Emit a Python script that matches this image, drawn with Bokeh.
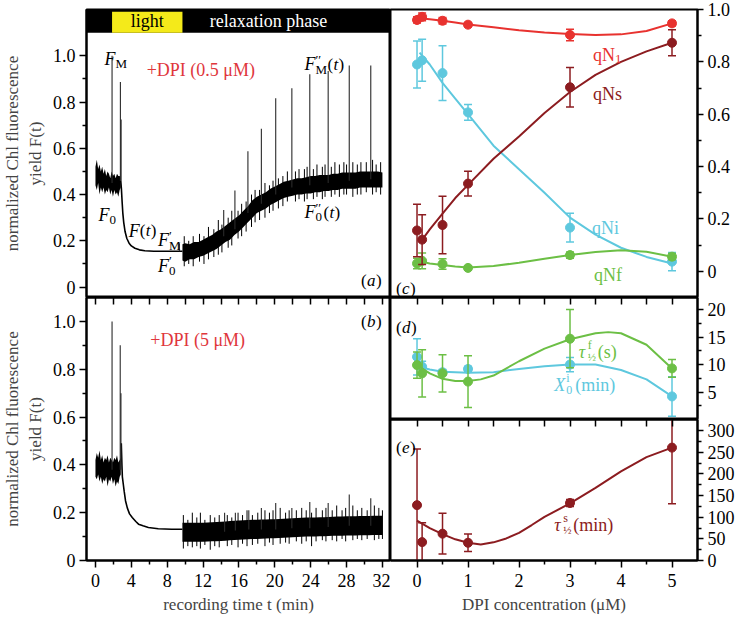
from bokeh.plotting import figure
from bokeh.models import Range1d, FixedTicker, LinearAxis, Label
from bokeh.layouts import row, column
from bokeh.embed import file_html
from bokeh.resources import INLINE

SERIF = "Liberation Serif"
RED = "#e8322f"
DRED = "#8c1c20"
CYAN = "#5ec8de"
GREEN = "#6cbf45"
LABRED = "#e0363c"

# ---------------- panel (a) trace: +DPI 0.5 uM ----------------
a_pre_t = [0.0, 0.15, 0.3, 0.45, 0.6, 0.75, 0.9, 1.05, 1.2, 1.35, 1.5, 1.65, 1.8, 1.95, 2.1, 2.25, 2.4, 2.55, 2.7, 2.82]
a_pre_hi = [0.52, 0.55, 0.51, 0.53, 0.50, 0.52, 0.49, 0.51, 0.48, 0.50, 0.49, 0.47, 0.50, 0.48, 0.49, 0.47, 0.49, 0.48, 0.48, 0.47]
a_pre_lo = [0.44, 0.42, 0.45, 0.40, 0.43, 0.41, 0.43, 0.40, 0.42, 0.41, 0.43, 0.40, 0.42, 0.39, 0.42, 0.40, 0.41, 0.39, 0.42, 0.43]
a_dec_t = [2.82, 2.9, 2.97, 3.05, 3.15, 3.3, 3.5, 3.75, 4.0, 4.4, 4.9, 5.5, 6.5, 8.0, 9.7]
a_dec_v = [0.46, 0.42, 0.37, 0.32, 0.28, 0.24, 0.21, 0.19, 0.178, 0.168, 0.161, 0.157, 0.155, 0.155, 0.155]
a_rec_t = [9.7, 10.0, 10.5, 11.0, 11.5, 12.0, 12.5, 13.0, 13.5, 14.0, 14.5, 15.0, 15.5, 16.0, 16.5,
           17.0, 17.5, 18.0, 18.5, 19.0, 19.5, 20.0, 20.5, 21.0, 21.5, 22.0, 22.5, 23.0, 23.5, 24.0,
           24.5, 25.0, 25.5, 26.0, 26.5, 27.0, 27.5, 28.0, 28.5, 29.0, 29.5, 30.0, 30.5, 31.0, 31.5, 32.0]
a_rec_lo = [0.115, 0.11, 0.12, 0.12, 0.13, 0.135, 0.145, 0.155, 0.165, 0.18, 0.195, 0.205, 0.225, 0.24, 0.26,
            0.28, 0.30, 0.32, 0.33, 0.34, 0.355, 0.365, 0.375, 0.385, 0.39, 0.395, 0.40, 0.40, 0.405, 0.405,
            0.41, 0.41, 0.415, 0.415, 0.42, 0.42, 0.425, 0.425, 0.425, 0.425, 0.43, 0.43, 0.43, 0.43, 0.43, 0.43]
a_rec_hi = [0.185, 0.19, 0.185, 0.195, 0.195, 0.205, 0.215, 0.225, 0.24, 0.25, 0.265, 0.28, 0.295, 0.31, 0.33,
            0.35, 0.375, 0.39, 0.40, 0.41, 0.425, 0.435, 0.445, 0.455, 0.46, 0.465, 0.47, 0.47, 0.475, 0.48,
            0.48, 0.485, 0.485, 0.485, 0.49, 0.49, 0.495, 0.495, 0.495, 0.495, 0.50, 0.50, 0.50, 0.50, 0.50, 0.495]
# noise hairs sticking out of the band
a_hair_t = [9.9, 10.4, 10.9, 11.6, 12.1, 12.6, 13.2, 13.7, 14.1, 14.8, 15.2, 15.9, 16.3, 16.8, 17.4,
            17.8, 18.3, 18.9, 19.4, 19.8, 20.4, 20.9, 21.4, 22.3, 22.7, 23.3, 23.6, 24.3, 24.7, 25.3,
            25.6, 26.3, 26.7, 27.2, 27.7, 28.0, 28.7, 29.2, 29.6, 30.2, 30.9, 31.3, 31.8]
a_hair_lo = [0.09, 0.10, 0.09, 0.11, 0.10, 0.12, 0.13, 0.14, 0.15, 0.17, 0.18, 0.21, 0.22, 0.24, 0.26,
             0.28, 0.29, 0.30, 0.32, 0.33, 0.34, 0.35, 0.37, 0.37, 0.38, 0.37, 0.38, 0.38, 0.39, 0.38,
             0.39, 0.39, 0.40, 0.39, 0.40, 0.40, 0.39, 0.40, 0.40, 0.41, 0.40, 0.41, 0.40]
a_hair_hi = [0.22, 0.20, 0.22, 0.23, 0.22, 0.26, 0.25, 0.29, 0.27, 0.30, 0.33, 0.33, 0.36, 0.37, 0.40,
             0.42, 0.42, 0.45, 0.44, 0.46, 0.47, 0.48, 0.50, 0.50, 0.51, 0.51, 0.52, 0.51, 0.53, 0.52,
             0.53, 0.52, 0.54, 0.53, 0.54, 0.53, 0.54, 0.53, 0.54, 0.54, 0.55, 0.53, 0.54]
a_spike_t = [1.85, 2.78, 2.86, 9.36, 14.3, 15.55, 17.0, 18.5, 20.1, 21.9, 23.9, 25.95, 28.3, 30.7]
a_spike_base = [0.45, 0.46, 0.46, 0.155, 0.22, 0.25, 0.32, 0.36, 0.40, 0.43, 0.44, 0.45, 0.46, 0.466]
a_spike_peak = [1.0, 0.887, 0.725, 0.19, 0.333, 0.418, 0.587, 0.684, 0.816, 0.86, 0.92, 0.934, 0.958, 0.958]

# ---------------- panel (b) trace: +DPI 5 uM ----------------
b_pre_t = [0.0, 0.15, 0.3, 0.45, 0.6, 0.75, 0.9, 1.05, 1.2, 1.35, 1.5, 1.65, 1.8, 1.95, 2.1, 2.25, 2.4, 2.55, 2.7, 2.82]
b_pre_hi = [0.42, 0.45, 0.43, 0.46, 0.42, 0.44, 0.41, 0.43, 0.42, 0.44, 0.41, 0.43, 0.42, 0.41, 0.43, 0.42, 0.44, 0.41, 0.42, 0.43]
b_pre_lo = [0.35, 0.34, 0.36, 0.33, 0.35, 0.32, 0.34, 0.33, 0.35, 0.31, 0.34, 0.33, 0.35, 0.32, 0.34, 0.31, 0.33, 0.32, 0.35, 0.36]
b_dec_t = [2.88, 2.95, 3.0, 3.1, 3.2, 3.35, 3.55, 3.8, 4.1, 4.5, 4.8, 5.3, 5.9, 7.0, 8.5, 9.7]
b_dec_v = [0.49, 0.40, 0.35, 0.32, 0.29, 0.25, 0.22, 0.195, 0.18, 0.163, 0.152, 0.145, 0.138, 0.133, 0.131, 0.131]
b_rec_t = a_rec_t
b_rec_lo = [0.078, 0.078, 0.078, 0.078, 0.078, 0.078, 0.079, 0.080, 0.081, 0.082, 0.083, 0.085, 0.086, 0.087, 0.088,
            0.089, 0.090, 0.090, 0.091, 0.092, 0.093, 0.093, 0.094, 0.095, 0.096, 0.097, 0.098, 0.099, 0.100, 0.100,
            0.100, 0.101, 0.101, 0.102, 0.103, 0.104, 0.104, 0.105, 0.105, 0.105, 0.106, 0.106, 0.106, 0.107, 0.107, 0.107]
b_rec_hi = [0.158, 0.158, 0.158, 0.158, 0.158, 0.158, 0.159, 0.160, 0.161, 0.162, 0.163, 0.165, 0.166, 0.167, 0.168,
            0.169, 0.170, 0.170, 0.171, 0.172, 0.173, 0.173, 0.174, 0.175, 0.176, 0.177, 0.178, 0.179, 0.180, 0.180,
            0.180, 0.181, 0.181, 0.182, 0.183, 0.184, 0.184, 0.185, 0.185, 0.185, 0.186, 0.186, 0.186, 0.187, 0.187, 0.187]
b_hair_t = [9.8, 10.3, 10.8, 11.3, 11.7, 12.2, 12.8, 13.3, 13.8, 14.7, 15.2, 15.9, 16.4, 16.9, 17.5,
            18.1, 18.9, 19.4, 19.8, 20.6, 21.2, 21.6, 22.4, 23.0, 23.5, 24.1, 24.6, 25.3, 25.7, 26.4,
            26.9, 27.5, 27.9, 28.7, 29.2, 29.7, 30.3, 31.1, 31.6, 32.0]
b_hair_lo = [0.050, 0.060, 0.055, 0.060, 0.050, 0.065, 0.045, 0.060, 0.055, 0.060, 0.065, 0.055, 0.070, 0.060, 0.065,
             0.070, 0.060, 0.075, 0.065, 0.070, 0.075, 0.070, 0.080, 0.070, 0.080, 0.060, 0.080, 0.085, 0.080, 0.085,
             0.080, 0.090, 0.080, 0.085, 0.090, 0.085, 0.090, 0.085, 0.090, 0.090]
b_hair_hi = [0.19, 0.17, 0.20, 0.18, 0.20, 0.17, 0.19, 0.18, 0.19, 0.19, 0.18, 0.20, 0.19, 0.21, 0.19,
             0.20, 0.21, 0.20, 0.21, 0.22, 0.20, 0.21, 0.21, 0.22, 0.21, 0.20, 0.22, 0.21, 0.22, 0.21,
             0.23, 0.21, 0.22, 0.23, 0.21, 0.22, 0.21, 0.23, 0.22, 0.21]
b_spike_t = [1.85, 2.76, 2.84, 14.4, 15.6, 17.1, 18.5, 20.1, 21.9, 23.9, 25.95, 28.3, 30.7]
b_spike_base = [0.38, 0.38, 0.38, 0.12, 0.125, 0.13, 0.13, 0.13, 0.135, 0.135, 0.14, 0.145, 0.145]
b_spike_peak = [1.0, 0.90, 0.70, 0.20, 0.20, 0.21, 0.22, 0.24, 0.22, 0.245, 0.24, 0.276, 0.26]

# light / relaxation bar
light_start, light_end = 1.85, 9.7

# ---------------- panels (c)-(e): DPI concentration ----------------
dpi = [0, 0.1, 0.5, 1, 3, 5]
qN1 = [0.960, 0.972, 0.957, 0.942, 0.903, 0.947]
qN1_err = [0.012, 0.015, 0.012, 0.008, 0.022, 0.010]
qNs = [0.156, 0.121, 0.177, 0.335, 0.703, 0.873]
qNs_err = [0.100, 0.095, 0.110, 0.047, 0.075, 0.050]
qNi = [0.790, 0.806, 0.757, 0.607, 0.167, 0.037]
qNi_err = [0.090, 0.080, 0.105, 0.030, 0.055, 0.035]
qNf = [0.030, 0.040, 0.028, 0.013, 0.062, 0.056]
qNf_err = [0.020, 0.030, 0.020, 0.008, 0.012, 0.012]

fit_qN1_x = [0, 0.1, 0.25, 0.5, 0.75, 1, 1.5, 2, 2.5, 3, 3.5, 4, 4.5, 5]
fit_qN1_y = [0.966, 0.966, 0.963, 0.957, 0.950, 0.943, 0.932, 0.921, 0.912, 0.906, 0.903, 0.905, 0.918, 0.947]
fit_qNs_x = [0.1, 0.25, 0.5, 0.75, 1, 1.5, 2, 2.5, 3, 3.5, 4, 4.5, 5]
fit_qNs_y = [0.12, 0.16, 0.22, 0.28, 0.33, 0.43, 0.515, 0.605, 0.685, 0.75, 0.80, 0.84, 0.873]
fit_qNi_x = [0.05, 0.25, 0.5, 0.75, 1, 1.5, 2, 2.5, 3, 3.5, 4, 4.5, 5]
fit_qNi_y = [0.835, 0.79, 0.72, 0.66, 0.60, 0.48, 0.39, 0.30, 0.205, 0.14, 0.09, 0.055, 0.03]
fit_qNf_x = [0, 0.25, 0.5, 0.75, 1, 1.5, 2, 2.5, 3, 3.5, 4, 4.5, 5]
fit_qNf_y = [0.040, 0.030, 0.024, 0.018, 0.015, 0.020, 0.033, 0.048, 0.062, 0.074, 0.080, 0.075, 0.056]

tau_f = [9.9, 8.4, 8.4, 6.9, 14.7, 9.3]
tau_f_err = [2.4, 4.3, 3.4, 4.7, 5.3, 1.6]
X0 = [11.4, 9.6, 8.6, 9.2, 10.0, 4.2]
X0_err = [3.3, 1.0, 0.5, 0.5, 1.3, 3.6]
fit_tauf_x = [0, 0.25, 0.5, 0.75, 1, 1.25, 1.5, 2, 2.5, 3, 3.5, 3.75, 4, 4.5, 5]
fit_tauf_y = [9.9, 8.4, 7.4, 7.0, 7.0, 7.3, 8.0, 10.6, 12.9, 14.6, 15.7, 15.9, 15.7, 13.6, 9.3]
fit_X0_x = [0, 0.25, 0.5, 1, 1.5, 2, 2.5, 3, 3.5, 4, 4.5, 5]
fit_X0_y = [9.7, 9.1, 8.7, 8.5, 8.6, 9.2, 9.7, 10.0, 10.0, 9.0, 7.3, 4.2]

tau_s = [128, 42.5, 62, 41, 133, 261]
tau_s_err = [130, 45, 47, 20, 8, 130]
fit_taus_x = [0, 0.25, 0.5, 0.75, 1, 1.25, 1.5, 1.75, 2, 2.25, 2.5, 3, 3.5, 4, 4.5, 5]
fit_taus_y = [92, 75, 61, 49, 41, 37, 42, 51, 64, 82, 101, 132, 168, 206, 239, 261]

FS = "18px"


def make_fig(w, h, xr, yr, left=0, right=0, top=0, bottom=0):
    p = figure(width=w, height=h, x_range=xr, y_range=yr, output_backend="svg",
               toolbar_location=None, x_axis_location=None, y_axis_location=None,
               min_border_left=left, min_border_right=right,
               min_border_top=top, min_border_bottom=bottom)
    p.grid.grid_line_color = None
    p.outline_line_color = "black"
    p.outline_line_width = 2
    p.background_fill_color = "white"
    p.border_fill_color = "white"
    return p


def add_axis(p, side, ticks, minor, tout, overrides=None, title=None, standoff=4, title_standoff=5):
    ax = LinearAxis(ticker=FixedTicker(ticks=ticks, minor_ticks=minor))
    ax.major_tick_in = 0
    ax.major_tick_out = tout
    ax.minor_tick_in = 0
    ax.minor_tick_out = 4
    ax.axis_line_width = 2
    ax.major_tick_line_width = 1.5
    ax.minor_tick_line_width = 1.5
    ax.major_label_text_font = SERIF
    ax.major_label_text_font_size = FS
    ax.major_label_text_color = "black"
    ax.major_label_standoff = standoff
    if overrides:
        ax.major_label_overrides = overrides
    if title:
        ax.axis_label = title
        ax.axis_label_text_font = SERIF
        ax.axis_label_text_font_size = "17px"
        ax.axis_label_text_font_style = "normal"
        ax.axis_label_standoff = title_standoff
    p.add_layout(ax, side)
    return ax


def add_inner_ticks(p, side, positions):
    # a border axis with only (unlabelled) tick marks pointing into the frame
    ax = LinearAxis(ticker=FixedTicker(ticks=[], minor_ticks=positions))
    ax.major_tick_in = 0
    ax.major_tick_out = 0
    ax.minor_tick_in = 7
    ax.minor_tick_out = 0
    ax.minor_tick_line_width = 1.5
    ax.axis_line_width = 2
    ax.major_label_standoff = 0
    p.add_layout(ax, side)


def txt(p, x, y, parts, color="black", align="left"):
    for (s, dx, dy, size, style) in parts:
        p.add_layout(Label(x=x, y=y, text=s, x_offset=dx, y_offset=dy,
                           text_font=SERIF, text_font_size=f"{size}px",
                           text_font_style=style, text_color=color,
                           text_align=align, text_baseline="alphabetic"))


def trace(p, pre_t, pre_lo, pre_hi, dec_t, dec_v, rec_t, rec_lo, rec_hi,
          hr_t, hr_lo, hr_hi, sp_t, sp_b, sp_p):
    p.varea(x=pre_t, y1=pre_lo, y2=pre_hi, fill_color="black")
    p.line(dec_t, dec_v, line_color="black", line_width=1.6)
    p.varea(x=rec_t, y1=rec_lo, y2=rec_hi, fill_color="black")
    p.segment(x0=hr_t, y0=hr_lo, x1=hr_t, y1=hr_hi, line_color="black", line_width=1)
    p.segment(x0=sp_t, y0=sp_b, x1=sp_t, y1=sp_p, line_color="#2a2a2a", line_width=1.1)


y_ticks = [0, 0.2, 0.4, 0.6, 0.8, 1.0]
y_minor = [0.1, 0.3, 0.5, 0.7, 0.9]
y_over = {0: "0", 1: "1.0"}
t_ticks = [0, 4, 8, 12, 16, 20, 24, 28, 32]
t_minor = [2, 6, 10, 14, 18, 22, 26, 30]
YTITLE = "normalized Chl fluorescence\nyield F(t)"

LW, RW = 390, 347
TOP, BOT = 9, 58
HA, HB = 288, 263
HC, HD, HE = 288, 122, 141

# ---- (a)
pa = make_fig(LW, TOP + HA, Range1d(-1.0, 32.9), Range1d(-0.045, 1.2), left=80, top=TOP)
add_axis(pa, "left", y_ticks, y_minor, 7, overrides=y_over, title=YTITLE)
pa.quad(left=[-1.0], right=[32.9], bottom=[1.1], top=[1.2], fill_color="black", line_color=None)
pa.quad(left=[light_start], right=[light_end], bottom=[1.1], top=[1.19], fill_color="#f4ea1a", line_color=None)
trace(pa, a_pre_t, a_pre_lo, a_pre_hi, a_dec_t, a_dec_v, a_rec_t, a_rec_lo, a_rec_hi,
      a_hair_t, a_hair_lo, a_hair_hi, a_spike_t, a_spike_base, a_spike_peak)
pa.add_layout(Label(x=(light_start + light_end) / 2, y=1.15, text="light", text_font=SERIF,
                    text_font_size="18px", text_align="center", text_baseline="middle", text_color="black"))
pa.add_layout(Label(x=19.3, y=1.15, text="relaxation phase", text_font=SERIF,
                    text_font_size="18px", text_align="center", text_baseline="middle", text_color="white"))
txt(pa, 11.75, 0.94, [("+DPI (0.5 μM)", 0, 0, 18, "normal")], color=LABRED, align="center")
txt(pa, 1.0, 0.984, [("F", 0, 0, 18, "italic"), ("M", 11, -4, 13, "normal")])
txt(pa, 0.33, 0.312, [("F", 0, 0, 18, "italic"), ("0", 11, -5, 13, "normal")])
txt(pa, 3.7, 0.243, [("F", 0, 0, 18, "italic"), ("(", 11, 0, 17, "normal"), ("t", 17, 0, 17, "italic"), (")", 22, 0, 17, "normal")])
txt(pa, 6.96, 0.203, [("F", 0, 0, 18, "italic"), ("′", 11, 5, 13, "normal"), ("M", 11, -5, 13, "normal")])
txt(pa, 6.96, 0.093, [("F", 0, 0, 18, "italic"), ("′", 11, 5, 13, "normal"), ("0", 11, -5, 13, "normal")])
txt(pa, 23.3, 0.964, [("F", 0, 0, 18, "italic"), ("′′", 11, 5, 13, "normal"), ("M", 11, -5, 13, "normal"),
                      ("(", 23, 0, 17, "normal"), ("t", 29, 0, 17, "italic"), (")", 34, 0, 17, "normal")])
txt(pa, 23.3, 0.324, [("F", 0, 0, 18, "italic"), ("′′", 11, 5, 13, "normal"), ("0", 11, -5, 13, "normal"),
                      ("(", 19, 0, 17, "normal"), ("t", 25, 0, 17, "italic"), (")", 30, 0, 17, "normal")])
txt(pa, 29.6, 0.03, [("(", 0, 0, 17, "normal"), ("a", 6, 0, 17, "italic"), (")", 15, 0, 17, "normal")])

# ---- (b)
pb = make_fig(LW, HB + BOT, pa.x_range, Range1d(0, 1.1), left=80, bottom=BOT)
add_axis(pb, "left", y_ticks, y_minor, 7, overrides=y_over, title=YTITLE)
add_axis(pb, "below", t_ticks, t_minor, 7, title="recording time t (min)", standoff=6, title_standoff=5)
add_inner_ticks(pb, "above", t_ticks + t_minor)
trace(pb, b_pre_t, b_pre_lo, b_pre_hi, b_dec_t, b_dec_v, b_rec_t, b_rec_lo, b_rec_hi,
      b_hair_t, b_hair_lo, b_hair_hi, b_spike_t, b_spike_base, b_spike_peak)
txt(pb, 11.4, 0.923, [("+DPI (5 μM)", 0, 0, 18, "normal")], color=LABRED, align="center")
txt(pb, 29.6, 1.0, [("(", 0, 0, 17, "normal"), ("b", 6, 0, 17, "italic"), (")", 15, 0, 17, "normal")])

XR = Range1d(-0.52, 5.5)
c_ticks = [0, 0.2, 0.4, 0.6, 0.8, 1.0]
c_minor = [0.1, 0.3, 0.5, 0.7, 0.9]
x_ticks = [0, 1, 2, 3, 4, 5]
x_minor = [0.5, 1.5, 2.5, 3.5, 4.5]


def errbars(p, x, y, e, color, size=8):
    lo = [v - d for v, d in zip(y, e)]
    hi = [v + d for v, d in zip(y, e)]
    p.segment(x0=x, y0=lo, x1=x, y1=hi, line_color=color, line_width=1.5)
    p.scatter(x=x, y=lo, marker="dash", size=size, line_color=color, line_width=1.5)
    p.scatter(x=x, y=hi, marker="dash", size=size, line_color=color, line_width=1.5)


# ---- (c)
pc = make_fig(RW, TOP + HC, XR, Range1d(-0.1, 1.0), right=37, top=TOP)
add_axis(pc, "right", c_ticks, c_minor, 6, overrides=y_over)
for fx, fy, y, e, col in [(fit_qN1_x, fit_qN1_y, qN1, qN1_err, RED),
                          (fit_qNi_x, fit_qNi_y, qNi, qNi_err, CYAN),
                          (fit_qNf_x, fit_qNf_y, qNf, qNf_err, GREEN),
                          (fit_qNs_x, fit_qNs_y, qNs, qNs_err, DRED)]:
    pc.line(fx, fy, line_color=col, line_width=2)
    errbars(pc, dpi, y, e, col)
    pc.scatter(x=dpi, y=y, marker="circle", size=9, fill_color=col, line_color=col)
txt(pc, 3.45, 0.826, [("qN", 0, 0, 18, "normal"), ("1", 22, -4, 13, "normal")], color=RED)
txt(pc, 3.45, 0.677, [("qNs", 0, 0, 18, "normal")], color=DRED)
txt(pc, 3.43, 0.165, [("qNi", 0, 0, 18, "normal")], color=CYAN)
txt(pc, 3.47, -0.014, [("qNf", 0, 0, 18, "normal")], color=GREEN)
txt(pc, -0.41, -0.066, [("(", 0, 0, 17, "normal"), ("c", 6, 0, 17, "italic"), (")", 14, 0, 17, "normal")])

# ---- (d)
pd_ = make_fig(RW, HD, XR, Range1d(0, 22.2), right=37)
add_axis(pd_, "right", [5, 10, 15, 20], [2.5, 7.5, 12.5, 17.5], 6)
add_inner_ticks(pd_, "above", x_ticks + x_minor)
for fx, fy, y, e, col in [(fit_X0_x, fit_X0_y, X0, X0_err, CYAN),
                          (fit_tauf_x, fit_tauf_y, tau_f, tau_f_err, GREEN)]:
    pd_.line(fx, fy, line_color=col, line_width=2)
    errbars(pd_, dpi, y, e, col)
    pd_.scatter(x=dpi, y=y, marker="circle", size=9, fill_color=col, line_color=col)
txt(pd_, -0.41, 16.8, [("(", 0, 0, 17, "normal"), ("d", 6, 0, 17, "italic"), (")", 15, 0, 17, "normal")])
txt(pd_, 3.17, 12.2, [("τ", 0, 0, 18, "italic"), ("f", 9, 7, 12, "normal"), ("½", 9, -5, 11, "normal"),
                      ("(s)", 19, 0, 18, "normal")], color=GREEN)
txt(pd_, 2.69, 6.2, [("X", 0, 0, 18, "italic"), ("i", 12, 7, 12, "normal"), ("0", 12, -5, 12, "normal"),
                     ("(min)", 21, 0, 18, "normal")], color=CYAN)

# ---- (e)
pe = make_fig(RW, HE + BOT, XR, Range1d(0, 326), right=37, bottom=BOT)
add_axis(pe, "right", [0, 50, 100, 150, 200, 250, 300], [25, 75, 125, 175, 225, 275], 6)
add_axis(pe, "below", x_ticks, x_minor, 7, title="DPI concentration (μM)", standoff=6, title_standoff=5)
add_inner_ticks(pe, "above", x_ticks + x_minor)
pe.line(fit_taus_x, fit_taus_y, line_color=DRED, line_width=2)
errbars(pe, dpi, tau_s, tau_s_err, DRED)
pe.scatter(x=dpi, y=tau_s, marker="circle", size=9, fill_color=DRED, line_color=DRED)
txt(pe, -0.41, 262, [("(", 0, 0, 17, "normal"), ("e", 6, 0, 17, "italic"), (")", 14, 0, 17, "normal")])
txt(pe, 2.69, 82, [("τ", 0, 0, 18, "italic"), ("s", 9, 7, 12, "normal"), ("½", 9, -5, 11, "normal"),
                   ("(min)", 19, 0, 18, "normal")], color=DRED)

layout = row(column(pa, pb, spacing=0), column(pc, pd_, pe, spacing=0), spacing=0)
open("out.html", "w").write(file_html(layout, INLINE))
